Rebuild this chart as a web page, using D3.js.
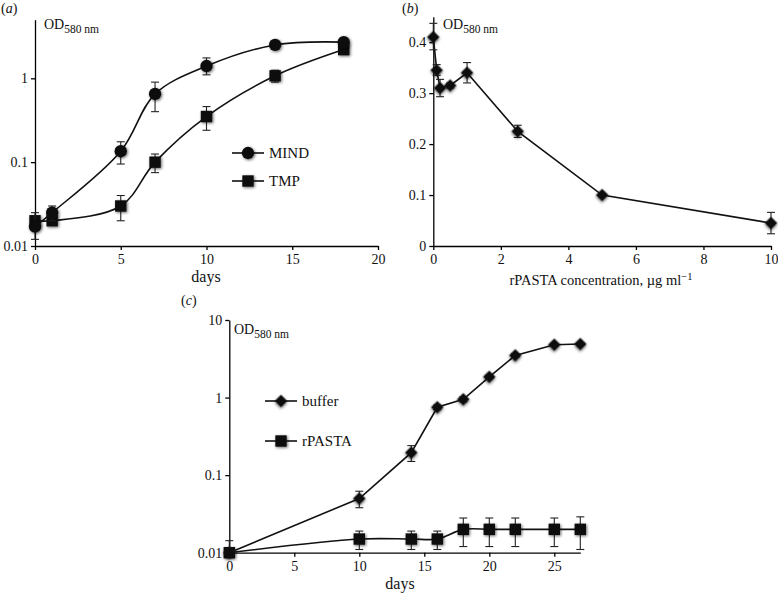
<!DOCTYPE html>
<html>
<head>
<meta charset="utf-8">
<script src="https://cdn.jsdelivr.net/npm/d3@7"></script>
<style>
  body { margin: 0; background: #fff; }
  svg { font-family: "Liberation Serif", "DejaVu Serif", serif; }
  .axis path, .axis line { stroke: #000; stroke-width: 1.3; }
  .axis text { font-size: 14px; fill: #111; font-family: "Liberation Serif", serif; }
</style>
</head>
<body>
<svg id="chart" width="778" height="597"></svg>
<script>
// panel (a): growth on MIND vs TMP
const daysA = [0, 1, 5, 7, 10, 14, 18];
const mind = [0.017, 0.025, 0.135, 0.65, 1.4, 2.5, 2.7];
const mindLo = [0.012, 0.02, 0.095, 0.4, 1.1, 2.4, 2.6];
const mindHi = [0.025, 0.03, 0.175, 0.9, 1.75, 2.6, 2.8];
const tmp = [0.02, 0.02, 0.03, 0.1, 0.35, 1.07, 2.2];
const tmpLo = [0.018, 0.019, 0.02, 0.075, 0.24, 0.9, 2.1];
const tmpHi = [0.022, 0.021, 0.04, 0.125, 0.46, 1.25, 2.3];

// panel (b): dose response
const conc = [0, 0.1, 0.2, 0.5, 1, 2.5, 5, 10];
const od = [0.41, 0.345, 0.31, 0.315, 0.34, 0.225, 0.1, 0.045];
const odLo = [0.385, 0.335, 0.293, 0.31, 0.32, 0.213, 0.097, 0.024];
const odHi = [0.437, 0.356, 0.327, 0.32, 0.36, 0.237, 0.103, 0.066];

// panel (c): buffer vs rPASTA
const daysC = [0, 10, 14, 16, 18, 20, 22, 25, 27];
const buffer = [0.01, 0.05, 0.195, 0.75, 0.95, 1.85, 3.5, 4.8, 4.9];
const bufferLo = [0.01, 0.038, 0.15, 0.7, 0.88, 1.75, 3.3, 4.6, 4.7];
const bufferHi = [0.01, 0.062, 0.24, 0.8, 1.02, 1.95, 3.7, 5.0, 5.1];
const rpasta = [0.01, 0.015, 0.015, 0.015, 0.02, 0.02, 0.02, 0.02, 0.02];
const rpastaLo = [0.01, 0.011, 0.011, 0.011, 0.012, 0.012, 0.012, 0.012, 0.011];
const rpastaHi = [0.0143, 0.019, 0.019, 0.019, 0.028, 0.028, 0.028, 0.028, 0.029];

const logTicksA = [0.01, 0.1, 1];
const logTicksC = [0.01, 0.1, 1, 10];
const linTicksB = [0, 0.1, 0.2, 0.3, 0.4];

const svg = d3.select("#chart");

// soft shadow round the markers, like the scanned figure
const defs = svg.append("defs");
const f = defs.append("filter").attr("id", "soft")
  .attr("x", "-50%").attr("y", "-50%").attr("width", "200%").attr("height", "200%");
f.append("feGaussianBlur").attr("in", "SourceAlpha").attr("stdDeviation", 1.6).attr("result", "b");
f.append("feOffset").attr("in", "b").attr("dx", 0.5).attr("dy", 1).attr("result", "o");
f.append("feComponentTransfer").attr("in", "o").attr("result", "s")
  .append("feFuncA").attr("type", "linear").attr("slope", 0.6);
const fm = f.append("feMerge");
fm.append("feMergeNode").attr("in", "s");
fm.append("feMergeNode").attr("in", "SourceGraphic");

function zip(xs, ys, lo, hi) {
  return xs.map((x, i) => ({ x, y: ys[i], lo: lo[i], hi: hi[i] }));
}

function symbolPath(kind) {
  if (kind === "circle") return d3.symbol(d3.symbolCircle, 120)();
  if (kind === "square") return d3.symbol(d3.symbolSquare, 130)();
  return d3.symbol(d3.symbolSquare, 78)();   // rotated 45deg below
}
const rot = kind => kind === "diamond" ? " rotate(45)" : "";

function drawSeries(g, data, x, y, kind, curve) {
  const line = d3.line().x(d => x(d.x)).y(d => y(d.y)).curve(curve);
  g.append("path").datum(data)
    .attr("d", line).attr("fill", "none").attr("stroke", "#111").attr("stroke-width", 1.6);

  const eb = g.append("g").attr("stroke", "#222").attr("stroke-width", 1.1);
  data.forEach(d => {
    if (d.hi - d.lo <= 0) return;
    const cx = x(d.x), y1 = y(d.lo), y2 = y(d.hi);
    eb.append("line").attr("x1", cx).attr("x2", cx).attr("y1", y1).attr("y2", y2);
    eb.append("line").attr("x1", cx - 4).attr("x2", cx + 4).attr("y1", y1).attr("y2", y1);
    eb.append("line").attr("x1", cx - 4).attr("x2", cx + 4).attr("y1", y2).attr("y2", y2);
  });

  g.append("g").selectAll("path").data(data).join("path")
    .attr("d", symbolPath(kind))
    .attr("transform", d => `translate(${x(d.x)},${y(d.y)})${rot(kind)}`)
    .attr("fill", "#111").attr("filter", "url(#soft)");
}

function odLabel(x0, y0) {
  const t = svg.append("text").attr("x", x0).attr("y", y0).attr("font-size", 14).attr("fill", "#111");
  t.append("tspan").text("OD");
  t.append("tspan").attr("dy", 4).attr("font-size", 11.5).text("580 nm");
}

function panelLabel(x0, y0, ch) {
  const t = svg.append("text").attr("x", x0).attr("y", y0).attr("font-size", 14).attr("fill", "#111");
  t.append("tspan").text("(");
  t.append("tspan").attr("font-style", "italic").text(ch);
  t.append("tspan").text(")");
}

function legendItem(x0, y0, kind, label) {
  svg.append("line").attr("x1", x0).attr("x2", x0 + 32).attr("y1", y0).attr("y2", y0)
    .attr("stroke", "#111").attr("stroke-width", 1.6);
  svg.append("path").attr("d", symbolPath(kind))
    .attr("transform", `translate(${x0 + 16},${y0})${rot(kind)}`)
    .attr("fill", "#111").attr("filter", "url(#soft)");
  svg.append("text").attr("x", x0 + 37).attr("y", y0 + 5).attr("font-size", 15).attr("fill", "#111").text(label);
}

// ---------- panel (a)
{
  const x = d3.scaleLinear().domain([0, 20]).range([35, 378]);
  const y = d3.scaleLog().domain([0.01, 5]).range([246, 19.7]);
  const g = svg.append("g");
  g.append("g").attr("class", "axis").attr("transform", "translate(0,246)")
    .call(d3.axisBottom(x).tickValues([0, 5, 10, 15, 20]).tickSize(4).tickSizeOuter(0).tickPadding(4));
  g.append("g").attr("class", "axis").attr("transform", "translate(35,0)")
    .call(d3.axisLeft(y).tickValues(logTicksA).tickFormat(String).tickSize(4).tickSizeOuter(0).tickPadding(3));
  drawSeries(g, zip(daysA, tmp, tmpLo, tmpHi), x, y, "square", d3.curveCatmullRom);
  drawSeries(g, zip(daysA, mind, mindLo, mindHi), x, y, "circle", d3.curveCatmullRom);
  svg.append("text").attr("x", 206).attr("y", 282).attr("text-anchor", "middle")
    .attr("font-size", 16).attr("fill", "#111").text("days");
  odLabel(44, 29);
  panelLabel(1, 13, "a");
  legendItem(232, 153, "circle", "MIND");
  legendItem(232, 181, "square", "TMP");
}

// ---------- panel (b)
{
  const x = d3.scaleLinear().domain([0, 10]).range([433.3, 771]);
  const y = d3.scaleLinear().domain([0, 0.45]).range([246, 16.7]);
  const g = svg.append("g");
  g.append("g").attr("class", "axis").attr("transform", "translate(0,246)")
    .call(d3.axisBottom(x).tickValues([0, 2, 4, 6, 8, 10]).tickSize(4).tickSizeOuter(0).tickPadding(4));
  g.append("g").attr("class", "axis").attr("transform", "translate(433.3,0)")
    .call(d3.axisLeft(y).tickValues(linTicksB).tickFormat(d => d === 0 ? "0" : d3.format(".1f")(d))
      .tickSize(4).tickSizeOuter(0).tickPadding(3));
  drawSeries(g, zip(conc, od, odLo, odHi), x, y, "diamond", d3.curveLinear);
  const t = svg.append("text").attr("x", 601).attr("y", 285).attr("text-anchor", "middle")
    .attr("font-size", 14.5).attr("fill", "#111");
  t.append("tspan").text("rPASTA concentration, \u00b5g ml");
  t.append("tspan").attr("dy", -5).attr("font-size", 10.5).text("\u22121");
  odLabel(443, 29);
  panelLabel(402, 13, "b");
}

// ---------- panel (c)
{
  const x = d3.scaleLinear().domain([0, 27]).range([229.3, 580.3]);
  const y = d3.scaleLog().domain([0.01, 10]).range([552.7, 320]);
  const g = svg.append("g");
  g.append("g").attr("class", "axis").attr("transform", "translate(0,552.7)")
    .call(d3.axisBottom(x).tickValues([0, 5, 10, 15, 20, 25]).tickSize(4).tickSizeOuter(0).tickPadding(4));
  g.append("g").attr("class", "axis").attr("transform", "translate(229.3,0)")
    .call(d3.axisLeft(y).tickValues(logTicksC).tickFormat(String).tickSize(4).tickSizeOuter(0).tickPadding(3));
  drawSeries(g, zip(daysC, rpasta, rpastaLo, rpastaHi), x, y, "square", d3.curveCatmullRom);
  drawSeries(g, zip(daysC, buffer, bufferLo, bufferHi), x, y, "diamond", d3.curveLinear);
  svg.append("text").attr("x", 400).attr("y", 589).attr("text-anchor", "middle")
    .attr("font-size", 16).attr("fill", "#111").text("days");
  odLabel(234, 334);
  panelLabel(181, 305, "c");
  legendItem(265, 401, "diamond", "buffer");
  legendItem(265, 441, "square", "rPASTA");
}
</script>
</body>
</html>
